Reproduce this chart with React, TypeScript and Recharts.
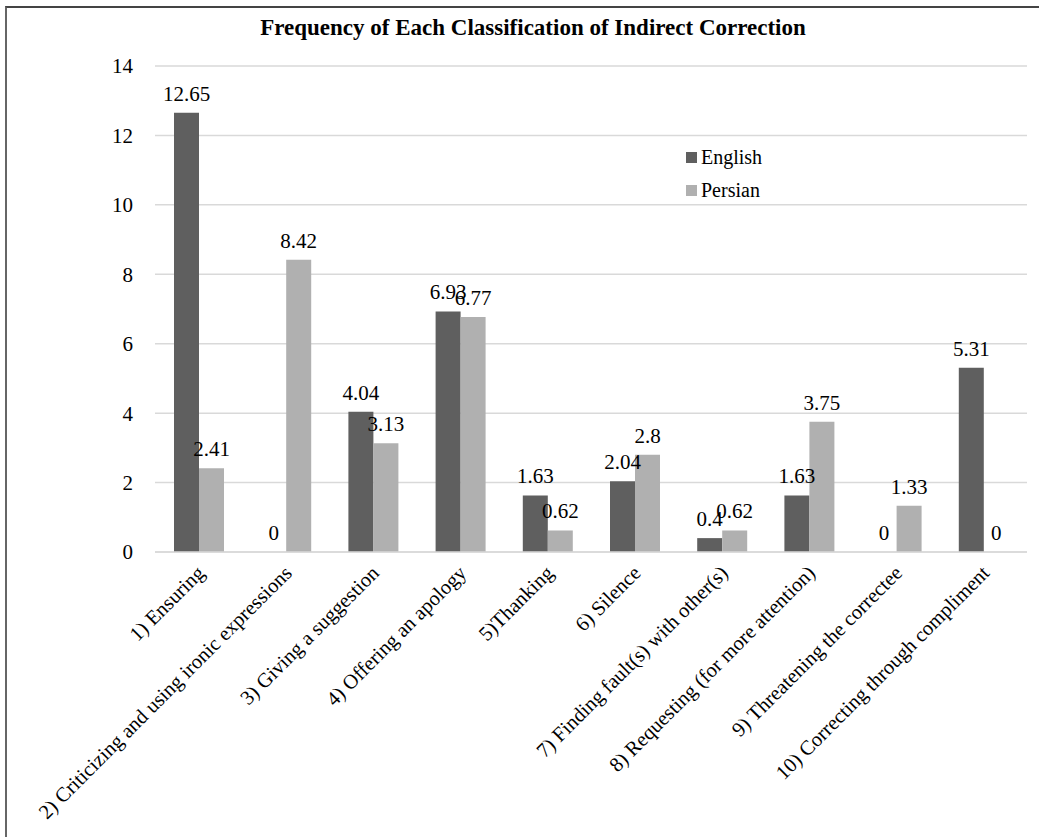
import { BarChart, Bar, XAxis, YAxis, CartesianGrid } from "recharts";

const categories = [
  "1) Ensuring",
  "2) Criticizing and using ironic expressions",
  "3) Giving a suggestion",
  "4) Offering an apology",
  "5)Thanking",
  "6) Silence",
  "7) Finding fault(s) with other(s)",
  "8) Requesting (for more attention)",
  "9) Threatening the correctee",
  "10) Correcting through compliment",
];
const english = [12.65, 0, 4.04, 6.93, 1.63, 2.04, 0.4, 1.63, 0, 5.31];
const persian = [2.41, 8.42, 3.13, 6.77, 0.62, 2.8, 0.62, 3.75, 1.33, 0];
const yTicks = [0, 2, 4, 6, 8, 10, 12, 14];

const data = categories.map((name, i) => ({ name, english: english[i], persian: persian[i] }));

const FONT = '"Liberation Serif", "Times New Roman", serif';
const ENGLISH_COLOR = "#5f5f5f";
const PERSIAN_COLOR = "#b0b0b0";

const legendItems = [
  { label: "English", color: ENGLISH_COLOR },
  { label: "Persian", color: PERSIAN_COLOR },
];

function AngledTick({ x, y, payload }: any) {
  return (
    <g transform={`translate(${x + 3},${y + 10})`}>
      <text
        transform="rotate(-45)"
        textAnchor="end"
        dy={6}
        fontSize={20.5}
        fontFamily={FONT}
        fill="#000"
      >
        {payload.value}
      </text>
    </g>
  );
}

// value label above each bar, zeros included
function ValueLabel({ x, y, width, height, value }: any) {
  const top = Math.min(y, y + height);
  return (
    <text
      x={x + width / 2}
      y={top - 12}
      textAnchor="middle"
      fontSize={21}
      fontFamily={FONT}
      fill="#000"
    >
      {value}
    </text>
  );
}

export default function App() {
  return (
    <div
      style={{
        position: "absolute",
        left: 0,
        top: 0,
        width: 1039,
        height: 837,
        background: "#fff",
        fontFamily: FONT,
        overflow: "hidden",
      }}
    >
      {/* frame: only top and left edges are visible in the crop */}
      <div
        style={{
          position: "absolute",
          left: 5,
          top: 6,
          width: 1040,
          height: 840,
          borderTop: "2px solid #444",
          borderLeft: "2px solid #666",
        }}
      />
      <div
        style={{
          position: "absolute",
          left: 0,
          width: 1066,
          top: 15,
          textAlign: "center",
          fontWeight: "bold",
          fontSize: 23,
          color: "#000",
        }}
      >
        Frequency of Each Classification of Indirect Correction
      </div>
      <BarChart
        width={1039}
        height={837}
        data={data}
        margin={{ top: 66, right: 12, left: 0, bottom: 0 }}
        barGap={0}
        barSize={25}
        style={{ position: "absolute", left: 0, top: 0 }}
      >
        <CartesianGrid vertical={false} stroke="#d9d9d9" strokeWidth={1.5} />
        <XAxis
          dataKey="name"
          interval={0}
          tick={<AngledTick />}
          tickLine={false}
          axisLine={{ stroke: "#d9d9d9", strokeWidth: 1.5 }}
          height={285}
        />
        <YAxis
          domain={[0, 14]}
          ticks={yTicks}
          width={155}
          tickLine={false}
          axisLine={false}
          tickMargin={16}
          tick={{ fontSize: 21, fill: "#000", fontFamily: FONT }}
        />
        {/* tiny minPointSize keeps zero bars (and their "0" labels) in the output */}
        <Bar
          dataKey="english"
          name="English"
          fill={ENGLISH_COLOR}
          minPointSize={0.01}
          isAnimationActive={false}
          label={<ValueLabel />}
        />
        <Bar
          dataKey="persian"
          name="Persian"
          fill={PERSIAN_COLOR}
          minPointSize={0.01}
          isAnimationActive={false}
          label={<ValueLabel />}
        />
      </BarChart>
      <div style={{ position: "absolute", left: 686, top: 141 }}>
        {legendItems.map((it) => (
          <div
            key={it.label}
            style={{ display: "flex", alignItems: "center", height: 33, fontSize: 20, color: "#000" }}
          >
            <span
              style={{ display: "inline-block", width: 11, height: 11, background: it.color, marginRight: 4 }}
            />
            {it.label}
          </div>
        ))}
      </div>
    </div>
  );
}
